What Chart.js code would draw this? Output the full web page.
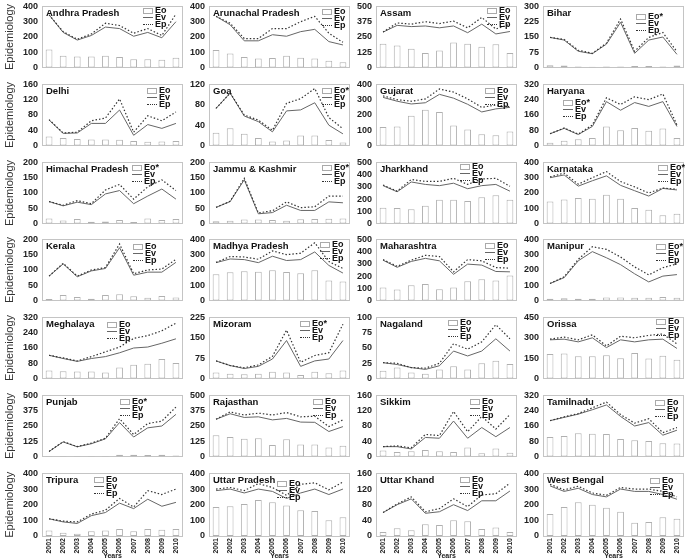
<!DOCTYPE html>
<html><head><meta charset="utf-8">
<script src="https://cdn.jsdelivr.net/npm/chart.js@4.4.1/dist/chart.umd.min.js"></script>
<style>
html,body{margin:0;padding:0;background:#fff;}
#wrap{position:relative;width:686px;height:560px;overflow:hidden;font-family:"Liberation Sans",Arial,sans-serif;}
canvas{position:absolute;}
.ttl{position:absolute;font-weight:bold;font-size:9.5px;color:#111;white-space:nowrap;line-height:10px;}
.lg{position:absolute;font-weight:bold;font-size:9px;color:#111;line-height:7px;white-space:nowrap;}
.lg div{height:7px;}
.sym{display:inline-block;width:10px;vertical-align:middle;margin-right:2px;box-sizing:border-box;}
.s-eo{height:6px;border:1px solid #aaa;background:#fff;}
.s-ev{height:0;border-top:1px solid #666;}
.s-ep{height:0;border-top:1.5px dotted #333;}
</style></head><body><div id="wrap"></div>
<script>
const years = ['2001','2002','2003','2004','2005','2006','2007','2008','2009','2010'];
const states = ['Andhra Pradesh','Arunachal Pradesh','Assam','Bihar',
  'Delhi','Goa','Gujarat','Haryana',
  'Himachal Pradesh','Jammu & Kashmir','Jharkhand','Karnataka',
  'Kerala','Madhya Pradesh','Maharashtra','Manipur',
  'Meghalaya','Mizoram','Nagaland','Orissa',
  'Punjab','Rajasthan','Sikkim','Tamilnadu',
  'Tripura','Uttar Pradesh','Uttar Khand','West Bengal'];
const eoLabels = ['Eo','Eo','Eo','Eo*', 'Eo','Eo*','Eo','Eo*', 'Eo*','Eo*','Eo','Eo*',
  'Eo','Eo','Eo','Eo*', 'Eo','Eo*','Eo','Eo', 'Eo*','Eo','Eo','Eo', 'Eo','Eo','Eo','Eo'];
const yMax  = [400,400,500,300, 160,120,400,320, 200,200,500,400, 200,400,500,400, 320,225,100,450, 500,500,160,320, 400,400,160,400];
const yStep = [100,100,125,75, 40,40,100,80, 50,50,100,100, 50,100,100,100, 80,75,25,150, 125,125,40,80, 100,100,40,100];

// Eo (bars)
const eoValues = [
  [118,78,72,72,78,70,55,55,52,65],
  [115,92,70,60,62,78,65,60,45,35],
  [195,180,155,120,140,205,195,170,190,120],
  [12,10,5,4,5,5,8,8,6,10],
  [24,20,17,16,16,15,12,10,11,12],
  [25,34,23,15,8,10,20,20,11,6],
  [122,125,195,235,220,132,105,75,68,92],
  [15,25,33,40,100,80,92,78,90,40],
  [17,10,15,6,7,12,5,17,12,15],
  [8,9,13,13,12,9,14,15,16,17],
  [130,128,118,145,195,195,185,215,232,195],
  [145,158,168,163,188,163,102,90,55,65],
  [5,18,12,6,18,21,14,9,15,10],
  [172,185,192,188,198,187,178,198,132,125],
  [108,90,125,135,92,108,158,175,165,205],
  [12,15,12,12,20,20,18,18,23,18],
  [42,38,37,37,32,58,72,78,102,82],
  [22,18,16,18,25,22,13,25,20,30],
  [13,18,10,8,15,20,15,25,29,24],
  [180,185,165,165,172,150,188,148,168,138],
  [5,4,5,4,5,15,15,14,15,8],
  [175,160,145,150,95,142,98,98,75,88],
  [16,12,14,17,14,12,24,9,21,10],
  [102,108,122,120,118,92,85,82,70,68],
  [35,20,15,30,35,45,30,45,40,45],
  [185,190,205,230,215,195,165,160,100,120],
  [10,20,15,30,28,40,38,18,22,10],
  [140,185,215,200,180,155,85,90,120,110]
];
// Ev (solid line)
const evValues = [
  [345,230,180,210,265,255,205,230,195,300],
  [335,280,175,175,215,205,235,250,170,148],
  [290,345,335,340,325,340,285,355,275,295],
  [148,135,80,68,115,222,70,135,150,65],
  [67,32,33,58,58,93,27,55,45,58],
  [73,103,58,47,27,68,70,84,40,23],
  [315,290,272,280,335,310,270,220,240,250],
  [62,90,58,100,230,185,225,205,230,100],
  [72,58,70,62,97,108,65,90,113,80],
  [53,72,143,32,36,60,43,43,71,68],
  [310,260,340,320,310,330,285,310,320,265],
  [300,318,245,280,312,250,215,180,230,220],
  [80,120,78,97,105,173,83,93,93,125],
  [248,272,268,248,290,262,268,318,230,180],
  [330,272,320,345,325,215,298,290,238,235],
  [112,150,260,320,280,235,175,122,160,170],
  [122,105,90,105,115,135,160,165,185,208],
  [65,48,37,45,72,140,45,65,72,140],
  [26,23,18,15,21,45,37,45,65,45],
  [285,290,270,300,228,285,270,285,290,222],
  [42,120,80,105,145,278,160,235,250,345],
  [305,350,320,325,300,312,282,280,205,245],
  [26,26,20,50,48,93,48,76,52,76],
  [188,205,222,245,270,210,160,178,112,138],
  [110,90,80,130,150,210,175,235,190,215],
  [290,300,275,300,285,240,275,300,265,300],
  [60,80,95,58,62,80,65,90,90,115],
  [320,285,305,265,250,300,285,285,265,235]
];
// Ep (dotted line)
const epValues = [
  [345,235,185,220,290,275,225,255,210,350],
  [335,290,190,190,255,255,300,335,225,165],
  [290,365,355,375,360,380,325,410,315,355],
  [148,138,85,70,120,238,80,148,172,78],
  [68,33,35,65,72,122,35,78,65,88],
  [73,103,60,50,30,83,92,112,55,33],
  [325,300,290,305,370,350,305,250,265,255],
  [62,92,60,108,250,215,255,240,270,108],
  [72,60,75,65,110,128,80,120,143,108],
  [53,73,148,35,42,71,52,55,90,90],
  [315,265,360,345,345,370,320,365,370,305],
  [305,330,258,300,340,275,240,200,232,225],
  [80,122,80,100,108,185,88,100,103,135],
  [250,288,285,270,325,300,310,378,255,210],
  [335,280,330,370,360,235,335,325,270,265],
  [112,155,270,352,335,285,220,168,215,240],
  [122,108,92,115,140,165,210,225,250,290],
  [65,48,40,50,82,178,60,85,95,200],
  [26,25,18,17,25,57,48,60,88,65],
  [290,305,285,322,240,312,300,318,328,255],
  [42,122,82,110,150,310,180,270,290,405],
  [305,365,340,355,340,360,325,330,245,300],
  [26,28,23,58,55,118,65,105,72,110],
  [188,208,225,255,285,220,175,198,125,152],
  [110,95,90,140,165,240,185,290,265,300],
  [300,310,290,335,310,260,330,340,295,345],
  [60,82,100,62,70,95,75,105,108,135],
  [330,295,318,275,260,310,300,300,285,250]
];

// ---- layout ----
const colLeft = [42, 209, 376, 543];
const rowTop = [5, 83, 161, 238, 316, 394, 472];
const plotW = 141, plotH = 64;
// legend offsets (relative to plot area top-left)
const legendPos = [
  [101,2],[113,3],[111,2],[93,8],
  [105,4],[113,4],[109,4],[20,16],
  [90,3],[113,3],[84,2],[115,3],
  [91,5],[111,3],[109,4],[113,5],
  [65,5],[91,4],[72,3],[113,2],
  [78,4],[104,4],[94,4],[112,5],
  [52,4],[68,8],[84,4],[107,5]
];

const boxPlugin = {
  id: 'box',
  beforeDatasetsDraw(chart) {
    const {ctx, chartArea: a} = chart;
    ctx.save();
    ctx.strokeStyle = '#c4c4c4';
    ctx.lineWidth = 1;
    ctx.strokeRect(Math.round(a.left) + 0.5, Math.round(a.top) + 0.5, Math.round(a.width) - 1, Math.round(a.height));
    ctx.restore();
  }
};

const wrap = document.getElementById('wrap');
states.forEach((name, i) => {
  const col = i % 4, row = Math.floor(i / 4);
  const last = row === 6;
  const axisW = col === 0 ? 42 : 32;
  const padTop = 8, padBottom = last ? 0 : 8, xH = last ? 24 : 0, padRight = 4;
  const cv = document.createElement('canvas');
  const W = axisW + plotW + padRight, H = padTop + plotH + padBottom + xH;
  cv.width = W; cv.height = H;
  cv.style.width = W + 'px'; cv.style.height = H + 'px';
  cv.style.left = (colLeft[col] - axisW) + 'px';
  cv.style.top = (rowTop[row] - padTop) + 'px';
  wrap.appendChild(cv);

  new Chart(cv, {
    type: 'bar',
    data: {
      labels: years,
      datasets: [
        {type: 'line', label: 'Ep', data: epValues[i], borderColor: '#333', borderWidth: 1.2,
         borderDash: [1.5, 2], pointRadius: 0, fill: false, tension: 0, order: 1},
        {type: 'line', label: 'Ev', data: evValues[i], borderColor: '#666', borderWidth: 1,
         pointRadius: 0, fill: false, tension: 0, order: 2},
        {type: 'bar', label: eoLabels[i], data: eoValues[i], backgroundColor: '#fff', borderColor: '#b0b0b0',
         borderWidth: 1, borderSkipped: false, barPercentage: 0.48, categoryPercentage: 1, order: 3}
      ]
    },
    options: {
      responsive: false, animation: false, devicePixelRatio: 1,
      layout: {padding: {top: padTop, bottom: padBottom, left: 0, right: padRight}},
      plugins: {legend: {display: false}, tooltip: {enabled: false}, title: {display: false}},
      scales: {
        x: {
          display: last,
          grid: {display: false, drawTicks: false},
          border: {display: false},
          ticks: {minRotation: 90, maxRotation: 90, autoSkip: false, padding: 2, color: '#222',
                  font: {family: 'Liberation Sans', size: 7, weight: 'bold'}},
          title: {display: last, text: 'Years', color: '#222', padding: {top: 1, bottom: 0},
                  font: {family: 'Liberation Sans', size: 7, weight: 'bold'}},
          afterFit: (s) => { if (last) s.height = xH; }
        },
        y: {
          min: 0, max: yMax[i],
          grid: {display: false, drawTicks: false},
          border: {display: false},
          ticks: {stepSize: yStep[i], autoSkip: false, padding: 4, color: '#222',
                  font: {family: 'Liberation Sans', size: 9, weight: 'bold'}},
          title: {display: col === 0, text: 'Epidemiology', color: '#333', padding: {top: 3, bottom: 0},
                  font: {family: 'Liberation Sans', size: 11}},
          afterFit: (s) => { s.width = axisW; }
        }
      }
    },
    plugins: [boxPlugin]
  });

  const t = document.createElement('div');
  t.className = 'ttl';
  t.textContent = name;
  t.style.left = (colLeft[col] + 4) + 'px';
  t.style.top = (rowTop[row] + 3) + 'px';
  wrap.appendChild(t);

  const lg = document.createElement('div');
  lg.className = 'lg';
  lg.style.left = (colLeft[col] + legendPos[i][0]) + 'px';
  lg.style.top = (rowTop[row] + legendPos[i][1]) + 'px';
  lg.innerHTML = '<div><span class="sym s-eo"></span>' + eoLabels[i] + '</div>' +
                 '<div><span class="sym s-ev"></span>Ev</div>' +
                 '<div><span class="sym s-ep"></span>Ep</div>';
  wrap.appendChild(lg);
});
</script>
</body></html>
